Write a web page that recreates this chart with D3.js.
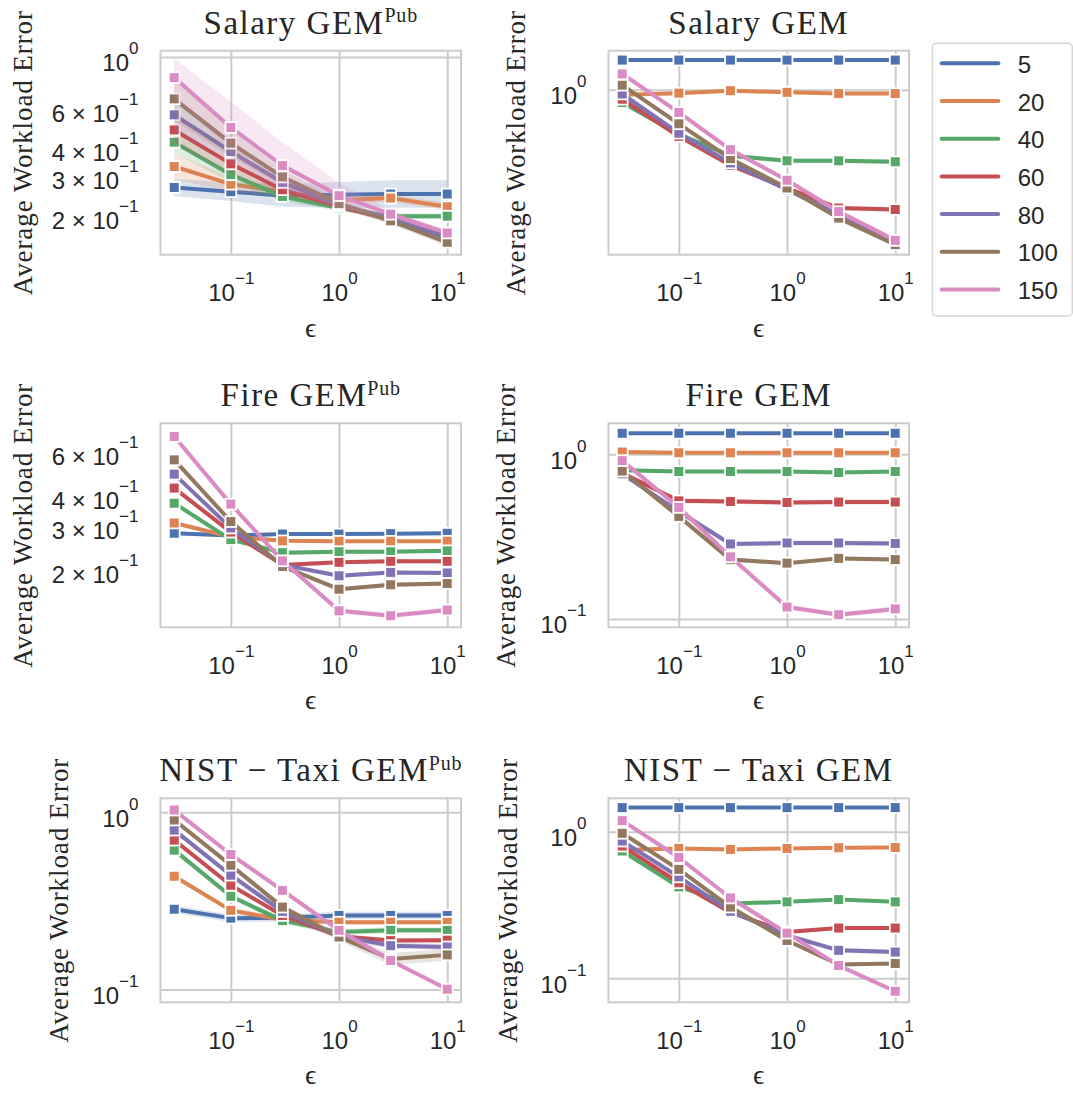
<!DOCTYPE html>
<html>
<head>
<meta charset="utf-8">
<script src="https://cdn.jsdelivr.net/npm/d3@7"></script>
<style>
  body { margin: 0; background: #fff; }
</style>
</head>
<body>
<svg id="fig" width="1073" height="1093"></svg>
<script>
// ---- data ----
const epsilon = [0.03, 0.1, 0.3, 1, 3, 10];
const sizes = ["5", "20", "40", "60", "80", "100", "150"];
const palette = ["#4c72b0", "#dd8452", "#55a868", "#c44e52", "#8172b3", "#937860", "#da8bc3"];
const xTicks = [0.1, 1, 10];
const xLimits = [0.0224, 13.4];

// mean workload error, one row per size, one column per epsilon
const salaryPub = [
  [0.264, 0.253, 0.243, 0.245, 0.247, 0.247],
  [0.327, 0.273, 0.253, 0.232, 0.237, 0.217],
  [0.419, 0.301, 0.241, 0.214, 0.197, 0.197],
  [0.475, 0.336, 0.258, 0.218, 0.190, 0.160],
  [0.554, 0.381, 0.278, 0.221, 0.193, 0.158],
  [0.652, 0.415, 0.294, 0.224, 0.188, 0.151],
  [0.810, 0.487, 0.330, 0.243, 0.201, 0.166]
];
const salaryGem = [
  [1.45, 1.45, 1.45, 1.45, 1.45, 1.45],
  [0.94, 0.96, 0.99, 0.97, 0.955, 0.955],
  [0.854, 0.575, 0.44, 0.413, 0.413, 0.408],
  [0.89, 0.56, 0.39, 0.294, 0.229, 0.225],
  [0.95, 0.583, 0.402, 0.288, 0.211, 0.148],
  [1.06, 0.655, 0.424, 0.294, 0.202, 0.145],
  [1.22, 0.755, 0.474, 0.324, 0.219, 0.153]
];
const firePub = [
  [0.277, 0.271, 0.275, 0.275, 0.276, 0.277],
  [0.305, 0.268, 0.258, 0.257, 0.257, 0.257],
  [0.367, 0.261, 0.231, 0.233, 0.233, 0.235],
  [0.423, 0.280, 0.206, 0.211, 0.213, 0.213],
  [0.482, 0.291, 0.206, 0.186, 0.192, 0.191],
  [0.551, 0.309, 0.203, 0.164, 0.171, 0.173],
  [0.686, 0.364, 0.214, 0.134, 0.128, 0.135]
];
const fireGem = [
  [1.34, 1.34, 1.34, 1.34, 1.34, 1.34],
  [1.03, 1.02, 1.02, 1.02, 1.02, 1.02],
  [0.80, 0.785, 0.785, 0.785, 0.774, 0.785],
  [0.767, 0.521, 0.516, 0.509, 0.512, 0.512],
  [0.76, 0.449, 0.285, 0.289, 0.289, 0.287],
  [0.79, 0.419, 0.229, 0.218, 0.233, 0.229],
  [0.914, 0.475, 0.238, 0.118, 0.106, 0.115]
];
const taxiPub = [
  [0.284, 0.253, 0.254, 0.262, 0.262, 0.262],
  [0.436, 0.280, 0.248, 0.240, 0.240, 0.240],
  [0.612, 0.336, 0.245, 0.211, 0.216, 0.216],
  [0.697, 0.388, 0.262, 0.200, 0.189, 0.190],
  [0.794, 0.442, 0.276, 0.200, 0.177, 0.174],
  [0.905, 0.503, 0.292, 0.198, 0.149, 0.157],
  [1.03, 0.578, 0.363, 0.216, 0.146, 0.1005]
];
const taxiGem = [
  [1.46, 1.46, 1.46, 1.46, 1.46, 1.46],
  [0.75, 0.769, 0.757, 0.769, 0.777, 0.78],
  [0.738, 0.42, 0.323, 0.332, 0.344, 0.332],
  [0.798, 0.448, 0.281, 0.207, 0.22, 0.22],
  [0.863, 0.492, 0.286, 0.196, 0.155, 0.151],
  [0.975, 0.553, 0.306, 0.181, 0.124, 0.126],
  [1.19, 0.667, 0.353, 0.203, 0.122, 0.0815]
];

// relative half-width of the confidence band (per size, optionally per epsilon)
const ciSalaryPub = [
  [0.09, 0.10, 0.12, 0.14, 0.15, 0.15],
  [0.14, 0.08, 0.05, 0.04, 0.04, 0.04],
  [0.12, 0.08, 0.05, 0.03, 0.03, 0.03],
  [0.15, 0.10, 0.06, 0.03, 0.03, 0.03],
  [0.18, 0.10, 0.06, 0.03, 0.03, 0.03],
  [0.25, 0.15, 0.08, 0.04, 0.04, 0.04],
  [0.22, 0.30, 0.27, 0.14, 0.04, 0.03]
];
const ciSalaryGem = [0.015, 0.02, 0.03, 0.03, 0.03, 0.03, 0.03];
const ciFirePub = [0.015, 0.015, 0.02, 0.02, 0.02, 0.02, 0.025];
const ciFireGem = [0.015, 0.015, 0.025, 0.035, 0.035, 0.03, 0.04];
const ciTaxiPub = [
  [0.05, 0.05, 0.05, 0.05, 0.05, 0.05],
  0.03, 0.04, 0.03, 0.04,
  [0.04, 0.04, 0.04, 0.05, 0.08, 0.08],
  0.03
];
const ciTaxiGem = [0.015, 0.025, 0.03, 0.03, 0.04, 0.03, 0.03];

// axis limits and labelled ticks for each panel
const yLimits = [[0.133, 1.066], [0.128, 1.63], [0.1148, 0.776], [0.0889, 1.54], [0.0848, 1.2], [0.0685, 1.69]];
const yTickValues = [
  [1, 0.6, 0.4, 0.3, 0.2],
  [1],
  [0.6, 0.4, 0.3, 0.2],
  [1, 0.1],
  [1, 0.1],
  [1, 0.1]
];
const titles = [
  ["Salary GEM", "Pub"], ["Salary GEM", ""],
  ["Fire GEM", "Pub"], ["Fire GEM", ""],
  ["NIST \u2212 Taxi GEM", "Pub"], ["NIST \u2212 Taxi GEM", ""]
];

// ---- layout ----
const colLeft = [160.5, 608.5];
const rowTop = [50.7, 423.3, 798.3];
const plotW = 300.5, plotH = 204;
const yLabelBaseline = [32, 525, 32, 515, 67.5, 517];

const panels = [
  { values: salaryPub, ci: ciSalaryPub },
  { values: salaryGem, ci: ciSalaryGem },
  { values: firePub, ci: ciFirePub },
  { values: fireGem, ci: ciFireGem },
  { values: taxiPub, ci: ciTaxiPub },
  { values: taxiGem, ci: ciTaxiGem }
];

const SANS = "'Liberation Sans', Arial, sans-serif";
const SERIF = "'Liberation Serif', 'Times New Roman', serif";
const GRID = "#cccccc";

const svg = d3.select("#fig");
svg.append("rect").attr("width", 1073).attr("height", 1093).attr("fill", "#fff");
const defs = svg.append("defs");

function tickParts(v) {
  const e = Math.floor(Math.log10(v) + 1e-9);
  const m = Math.round(v / Math.pow(10, e));
  const base = m === 1 ? "10" : m + " \u00d7 10";
  const exp = e < 0 ? "\u2212" + (-e) : String(e);
  return [base, exp];
}

function mathLabels(axisG, xPos, yPos) {
  axisG.selectAll(".tick text").each(function (d) {
    const t = d3.select(this);
    const [base, exp] = tickParts(d);
    t.text(null)
      .attr("x", xPos).attr("y", yPos).attr("dy", 0)
      .attr("font-family", SANS).attr("font-size", 24).attr("fill", "#262626");
    t.append("tspan").text(base);
    t.append("tspan").attr("dy", -17).attr("font-size", 17).text(exp);
  });
}

function spreadAt(ci, s, j) {
  const c = ci[s];
  return Array.isArray(c) ? c[j] : c;
}

panels.forEach((p, i) => {
  const col = i % 2, row = Math.floor(i / 2);
  const x0 = colLeft[col], y0 = rowTop[row];
  const x = d3.scaleLog().domain(xLimits).range([x0, x0 + plotW]);
  const y = d3.scaleLog().domain(yLimits[i]).range([y0 + plotH, y0]);
  const g = svg.append("g");

  defs.append("clipPath").attr("id", "clip" + i)
    .append("rect").attr("x", x0).attr("y", y0).attr("width", plotW).attr("height", plotH);

  // vertical grid + x tick labels
  const xAxisG = g.append("g").attr("transform", `translate(0,${y0 + plotH})`)
    .call(d3.axisBottom(x).tickValues(xTicks).tickSize(-plotH).tickFormat(() => ""));
  xAxisG.select(".domain").remove();
  xAxisG.selectAll(".tick line").attr("stroke", GRID).attr("stroke-width", 2);
  mathLabels(xAxisG, 0, 46.7);

  // horizontal grid at powers of ten inside the limits
  const [lo, hi] = yLimits[i];
  const majors = d3.range(Math.ceil(Math.log10(lo)), Math.floor(Math.log10(hi)) + 1).map(e => Math.pow(10, e));
  const yGridG = g.append("g").attr("transform", `translate(${x0},0)`)
    .call(d3.axisLeft(y).tickValues(majors).tickSize(-plotW).tickFormat(() => ""));
  yGridG.select(".domain").remove();
  yGridG.selectAll(".tick line").attr("stroke", GRID).attr("stroke-width", 2);

  // y tick labels (major and labelled minor ticks)
  const yLabG = g.append("g").attr("transform", `translate(${x0},0)`)
    .call(d3.axisLeft(y).tickValues(yTickValues[i]).tickSize(0).tickFormat(() => ""));
  yLabG.select(".domain").remove();
  yLabG.selectAll(".tick line").remove();
  yLabG.attr("text-anchor", "end");
  mathLabels(yLabG, -22, 14);

  // series: band, line, square markers
  const data = g.append("g").attr("clip-path", `url(#clip${i})`);
  const area = d3.area().x(d => x(d.e)).y0(d => y(d.lo)).y1(d => y(d.hi));
  const line = d3.line().x(d => x(d.e)).y(d => y(d.v));
  p.values.forEach((vals, s) => {
    const pts = vals.map((v, j) => {
      const k = 1 + spreadAt(p.ci, s, j);
      return { e: epsilon[j], v: v, lo: v / k, hi: v * k };
    });
    data.append("path").attr("d", area(pts)).attr("fill", palette[s]).attr("fill-opacity", 0.2);
    data.append("path").attr("d", line(pts)).attr("fill", "none")
      .attr("stroke", palette[s]).attr("stroke-width", 4).attr("stroke-linejoin", "round");
    data.selectAll(null).data(pts).enter().append("rect")
      .attr("x", d => x(d.e) - 5.4).attr("y", d => y(d.v) - 5.4)
      .attr("width", 10.8).attr("height", 10.8)
      .attr("fill", palette[s]).attr("stroke", "#fff").attr("stroke-width", 1.8);
  });

  // frame
  g.append("rect").attr("x", x0).attr("y", y0).attr("width", plotW).attr("height", plotH)
    .attr("fill", "none").attr("stroke", GRID).attr("stroke-width", 2);

  // title
  const tt = g.append("text").attr("x", x0 + plotW / 2).attr("y", y0 - 17)
    .attr("text-anchor", "middle").attr("font-family", SERIF).attr("font-size", 33)
    .attr("letter-spacing", 1.5).attr("fill", "#262626");
  tt.append("tspan").text(titles[i][0]);
  if (titles[i][1]) tt.append("tspan").attr("dy", -11.5).attr("font-size", 20).attr("letter-spacing", 0.8).text(titles[i][1]);

  // axis labels
  const yc = y0 + plotH / 2;
  g.append("text").attr("transform", `translate(${yLabelBaseline[i]},${yc}) rotate(-90)`)
    .attr("text-anchor", "middle").attr("font-family", SERIF).attr("font-size", 27)
    .attr("letter-spacing", 0.9).attr("fill", "#262626").text("Average Workload Error");
  g.append("text").attr("x", x0 + plotW / 2).attr("y", y0 + plotH + 82)
    .attr("text-anchor", "middle").attr("font-family", SERIF).attr("font-size", 28)
    .attr("fill", "#262626").text("\u03f5");
});

// legend
const leg = svg.append("g");
leg.append("rect").attr("x", 932.3).attr("y", 43.3).attr("width", 140).attr("height", 272.7)
  .attr("rx", 4).attr("fill", "#fff").attr("stroke", "#d6d6d6").attr("stroke-width", 1.5);
sizes.forEach((lab, s) => {
  const yy = 63.3 + s * 37.7;
  leg.append("line").attr("x1", 941.7).attr("x2", 998.3).attr("y1", yy).attr("y2", yy)
    .attr("stroke", palette[s]).attr("stroke-width", 4).attr("stroke-linecap", "round");
  leg.append("text").attr("x", 1017.7).attr("y", yy + 9.5)
    .attr("font-family", SANS).attr("font-size", 24).attr("fill", "#262626").text(lab);
});
</script>
</body>
</html>
